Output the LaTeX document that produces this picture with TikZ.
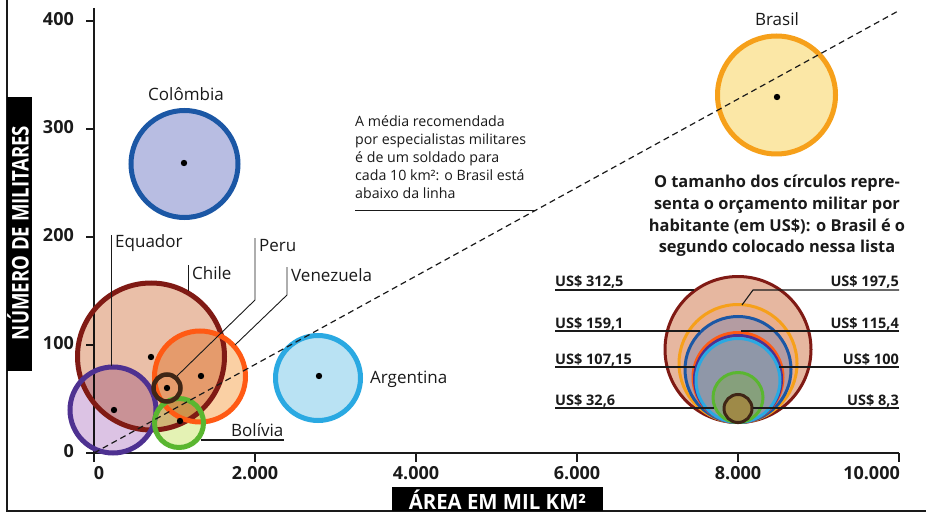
\documentclass[tikz,border=0pt]{standalone}
\usepackage{fontspec}
\setmainfont{Open Sans}
\definecolor{chileS}{HTML}{801A14}\definecolor{chileF}{HTML}{EABFA8}
\definecolor{equS}{HTML}{4E3191}\definecolor{equF}{HTML}{DCC3E4}
\definecolor{venS}{HTML}{FF5A14}\definecolor{venF}{HTML}{FAD0A4}
\definecolor{perS}{HTML}{3F2616}
\definecolor{bolS}{HTML}{5AB630}\definecolor{bolF}{HTML}{E4F2B4}
\definecolor{argS}{HTML}{2AA9E2}\definecolor{argF}{HTML}{B9E2F3}
\definecolor{colS}{HTML}{1B57A5}\definecolor{colF}{HTML}{B8BDE2}
\definecolor{braS}{HTML}{F6A01A}\definecolor{braF}{HTML}{FBE7A6}
\definecolor{ink}{HTML}{1A1A1A}
\definecolor{Lchi}{HTML}{E6B7A0}
\definecolor{Lbra}{HTML}{E9AE8C}
\definecolor{Lcol}{HTML}{B49CA2}
\definecolor{Lven}{HTML}{AC959E}
\definecolor{Lequ}{HTML}{A5939F}
\definecolor{Larg}{HTML}{8F97A8}
\definecolor{Lbol}{HTML}{86A07C}
\definecolor{Lper}{HTML}{9E8A48}
\begin{document}
\begin{tikzpicture}[x=1pt,y=-1pt,
  lab/.style={inner sep=0pt, text=ink, font=\fontsize{17}{20}\selectfont},
  note/.style={inner sep=0pt, text=ink, font=\fontsize{14.2}{17}\selectfont},
  bnote/.style={inner sep=0pt, text=ink, font=\bfseries\fontsize{16.4}{21}\selectfont},
  ticklab/.style={inner sep=0pt, text=ink, font=\bfseries\fontsize{18}{20}\selectfont},
  usd/.style={inner sep=0pt, text=ink, font=\bfseries\fontsize{14.5}{18}\selectfont},
  axisline/.style={line width=1.3pt, draw=ink},
  leader/.style={line width=0.9pt, draw=ink},
  uline/.style={line width=1.1pt, draw=ink},
  ring/.style={line width=5pt},
  lring/.style={line width=3pt},
  dot/.style={fill=black},
  titlebox/.style={fill=black, text=white, inner sep=0pt, font=\bfseries\fontsize{21}{24}\selectfont},
  ytitlebox/.style={fill=black, text=white, inner sep=0pt, font=\bfseries\fontsize{23}{26}\selectfont}]
\useasboundingbox (0,0) rectangle (926,513);
\fill[white] (0,0) rectangle (926,513);
% frame
\draw[line width=1.6pt, draw=ink] (7,0) -- (7,511) -- (926,511);
% axis title boxes
\fill[black] (7,97) rectangle (32,371);
\node[ytitlebox, rotate=90, anchor=base] (ytitle) at (28.5,233) {\scalebox{0.81}[1]{NÚMERO DE MILITARES}};
\fill[black] (392,487) rectangle (603,511);
\node[titlebox, anchor=base] (xtitle) at (497.5,509) {\scalebox{0.97}[1]{ÁREA EM MIL KM²}};
% axes
\draw[axisline] (94,8) -- (94,462);
\draw[axisline] (86,453) -- (899,453);
\foreach \yy/\tl in {21/400,129/300,237/200,345/100,453/0}{
  \draw[axisline] (86,\yy) -- (94,\yy);
  \node[ticklab, anchor=east] at (74,\yy-2) {\tl};
}
\foreach \xx/\tl in {255/2.000,416/4.000,577/6.000,738/8.000}{
  \draw[axisline] (\xx,453) -- (\xx,462);
  \node[ticklab] at (\xx,473) {\tl};
}
\draw[axisline] (899,453) -- (899,462);
\node[ticklab] at (99,473) {0};
\node[ticklab, anchor=east] at (900,473) {10.000};
% centres
\coordinate (chile) at (151,356.5);
\coordinate (equ) at (113,410);
\coordinate (ven) at (200,376.5);
\coordinate (per) at (167,388);
\coordinate (bol) at (179,423);
\coordinate (arg) at (318,378);
\coordinate (col) at (184.5,164);
\coordinate (bra) at (776.5,95);
% fills (multiply)
\fill[chileF, blend mode=multiply] (chile) circle[radius=73.5];
\fill[equF, blend mode=multiply] (equ) circle[radius=43];
\fill[venF, blend mode=multiply] (ven) circle[radius=45.5];
\fill[bolF, blend mode=multiply] (bol) circle[radius=24.5];
\fill[argF] (arg) circle[radius=42.5];
\fill[colF] (col) circle[radius=53.5];
\fill[braF] (bra) circle[radius=59];
% rings
\draw[ring, chileS] (chile) circle[radius=73.5];
\draw[ring, equS] (equ) circle[radius=43];
\draw[ring, venS] (ven) circle[radius=45.5];
\draw[ring, bolS] (bol) circle[radius=24.5];
\draw[line width=4.5pt, perS] (per) circle[radius=13.5];
\draw[ring, argS] (arg) circle[radius=42.5];
\draw[ring, colS] (col) circle[radius=53.5];
\draw[ring, braS] (bra) circle[radius=59];
% dashed reference line
\coordinate (o) at (94,453);
\coordinate (lineend) at (900,10);
\draw[line width=1.2pt, ink, dash pattern=on 6pt off 4pt] (o) -- (lineend);
% dots
\foreach \p in {{(151,357)},{(114,410)},{(201,376)},{(167,388)},{(180,421)},{(319,376)},{(184,163)},{(777,97)}}{
  \fill[dot] \p circle[radius=3.2];
}
% labels and leaders
\node[lab, anchor=south] (lcol) at (186,101) {Colômbia};
\node[lab, anchor=south] (lbra) at (777,26) {Brasil};
\node[lab, anchor=west] (larg) at (370,379) {Argentina};
\node[lab, anchor=west] (lequ) at (115,243) {Equador};
\node[lab, anchor=west] (lchi) at (192,273) {Chile};
\node[lab, anchor=west] (lper) at (259,246) {Peru};
\node[lab, anchor=west] (lven) at (291,275) {Venezuela};
\node[lab, anchor=base west] (lbol) at (231,436) {Bolívia};
\coordinate (equtop) at (111,366);
\coordinate (chitop) at (188,291);
\coordinate (peredge) at (177,376);
\coordinate (venedge) at (235,345);
\coordinate (boledge) at (201,440);
\draw[leader] (111,235) -- (equtop);
\draw[leader] (188,265) -- (chitop);
\draw[leader] (255,238) -- (255,300) -- (peredge);
\draw[leader] (287,267) -- (287,295) -- (venedge);
\draw[uline] (boledge) -- (lbol.south east |- boledge);
% note text
\node[note, anchor=base west] (n1) at (355,127) {A média recomendada};
\node[note, anchor=base west] (n2) at (355,145) {por especialistas militares};
\node[note, anchor=base west] (n3) at (355,163) {é de um soldado para};
\node[note, anchor=base west] (n4) at (355,181) {cada 10 km²: o Brasil está};
\node[note, anchor=base west] (n5) at (355,199) {abaixo da linha};
\coordinate (noteend) at (535,210);
\draw[leader] (355,210) -- (noteend);
% bold note
\node[bnote, anchor=base] (b1) at (777,188) {O tamanho dos círculos repre-};
\node[bnote, anchor=base] (b2) at (777,209.5) {senta o orçamento militar por};
\node[bnote, anchor=base] (b3) at (777,231) {habitante (em US\$): o Brasil é o};
\node[bnote, anchor=base] (b4) at (777,252.5) {segundo colocado nessa lista};
% legend circles
\filldraw[lring, draw=chileS, fill=Lchi] (738,349.5) circle[radius=73];
\filldraw[lring, draw=braS, fill=Lbra] (738,363.5) circle[radius=59];
\filldraw[lring, draw=colS, fill=Lcol] (738,369.5) circle[radius=53];
\filldraw[lring, draw=venS, fill=Lven] (738,377.5) circle[radius=45];
\filldraw[lring, draw=equS, fill=Lequ] (738,379) circle[radius=43.5];
\filldraw[lring, draw=argS, fill=Larg] (738,380.5) circle[radius=42];
\filldraw[lring, draw=bolS, fill=Lbol] (738,397.5) circle[radius=25];
\filldraw[lring, draw=perS, fill=Lper] (738,408.5) circle[radius=14];
% legend labels
\node[usd, anchor=base west] (u1) at (555,286) {US\$ 312,5};
\node[usd, anchor=base west] (u2) at (555,328) {US\$ 159,1};
\node[usd, anchor=base west] (u3) at (555,364) {US\$ 107,15};
\node[usd, anchor=base west] (u4) at (555,405) {US\$ 32,6};
\node[usd, anchor=base east] (u5) at (899,286) {US\$ 197,5};
\node[usd, anchor=base east] (u6) at (899,328) {US\$ 115,4};
\node[usd, anchor=base east] (u7) at (899,364) {US\$ 100};
\node[usd, anchor=base east] (u8) at (899,405) {US\$ 8,3};
\coordinate (e1) at (694,290);
\coordinate (e2) at (700,331);
\coordinate (e3) at (695,367);
\coordinate (e4) at (714,408);
\coordinate (e5) at (753,290);
\coordinate (e5b) at (742,305);
\coordinate (e6) at (741,331);
\coordinate (e7) at (779,367);
\coordinate (e8) at (753,408);
\draw[uline] (555,290) -- (e1);
\draw[uline] (555,331) -- (e2);
\draw[uline] (555,367) -- (e3);
\draw[uline] (555,408) -- (e4);
\draw[uline] (899,290) -- (e5) -- (e5b);
\draw[uline] (899,331) -- (e6);
\draw[uline] (899,367) -- (e7);
\draw[uline] (899,408) -- (e8);
\end{tikzpicture}
\end{document}
